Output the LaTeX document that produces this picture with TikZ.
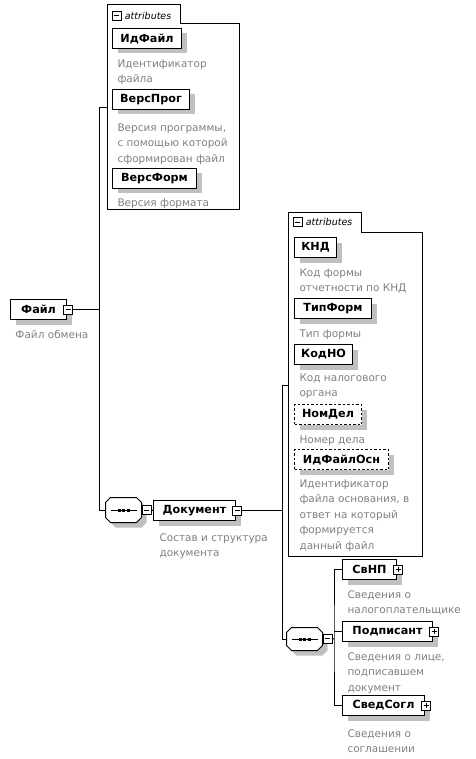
\documentclass[tikz,border=0pt]{standalone}
\usepackage{fontspec}
\setmainfont{DejaVu Sans}
\usepackage{tikz}
\usetikzlibrary{calc,shapes,shadows,positioning}

\definecolor{descgray}{RGB}{128,128,128}
\definecolor{shadowgray}{RGB}{192,192,192}

% octagon of a sequence compositor round node #1
\newcommand{\seqoct}[1]{%
  \draw[fill=white, drop shadow={shadow xshift=5pt, shadow yshift=-5pt, fill=shadowgray, opacity=1}]
    ([xshift=5pt]#1.north west) -- ([xshift=-5pt]#1.north east) -- ([yshift=-5pt]#1.north east)
    -- ([yshift=5pt]#1.south east) -- ([xshift=-5pt]#1.south east) -- ([xshift=5pt]#1.south west)
    -- ([yshift=5pt]#1.south west) -- ([yshift=-5pt]#1.north west) -- cycle;
  \draw ([xshift=5pt]#1.west) -- ([xshift=-5pt]#1.east);
  \fill ([xshift=-6pt, yshift=1.5pt]#1.center) rectangle +(3,3);
  \fill ([xshift=-1.5pt, yshift=1.5pt]#1.center) rectangle +(3,3);
  \fill ([xshift=3pt, yshift=1.5pt]#1.center) rectangle +(3,3);}

\begin{document}
\begin{tikzpicture}[x=1pt, y=-1pt, line width=1pt,
  elem/.style={draw, fill=white, anchor=north west, minimum height=20pt, inner sep=0pt,
    font=\fontsize{11.2}{12}\selectfont\bfseries,
    drop shadow={shadow xshift=5pt, shadow yshift=-5pt, fill=shadowgray, opacity=1}},
  optelem/.style={elem, dash pattern=on 2.5pt off 2pt},
  desc/.style={anchor=north west, inner sep=0pt, align=left, text=descgray,
    font=\fontsize{10.5}{15.5}\selectfont},
  attrlabel/.style={inner sep=0pt, font=\fontsize{9.5}{11}\selectfont\itshape},
  minusbox/.style={draw, fill=white, minimum size=9pt, inner sep=0pt, line width=0.8pt,
    path picture={\draw[line width=0.8pt] ([xshift=2pt]path picture bounding box.west) -- ([xshift=-2pt]path picture bounding box.east);}},
  plusbox/.style={draw, fill=white, minimum size=9pt, inner sep=0pt, line width=0.8pt,
    path picture={\draw[line width=0.8pt] ([xshift=2pt]path picture bounding box.west) -- ([xshift=-2pt]path picture bounding box.east);
      \draw[line width=0.8pt] ([yshift=-2pt]path picture bounding box.north) -- ([yshift=2pt]path picture bounding box.south);}},
  seqbox/.style={inner sep=0pt, minimum width=35pt, minimum height=24pt}]
  \useasboundingbox (0,0) rectangle (475,759);

  % root element
  \node[elem, minimum width=56pt] (file) at (10,299) {Файл};
  \node[minusbox] (file-m) at ([xshift=1pt]file.east) {};
  \node[desc] (file-d) at (15,330) {Файл обмена};

  % attributes of Файл
  \draw (107,210) -- (107,5) -- (180,5) -- (180,24) -- (239,24) -- (239,210) -- cycle;
  \node[minusbox] (attr1-m) at (116.5,15.5) {};
  \node[attrlabel, right=3pt of attr1-m] (attr1-l) {attributes};
  \coordinate (attr1-w) at (107,108);
  \coordinate (b1top) at (99,108);

  \node[elem, minimum width=69pt] (idfile) at (112,28) {ИдФайл};
  \node[desc] (idfile-d) at (117,59) {Идентификатор\\файла};
  \node[elem, minimum width=77pt] (versprog) at (112,89) {ВерсПрог};
  \node[desc] (versprog-d) at (117,123) {Версия программы,\\с помощью которой\\сформирован файл};
  \node[elem, minimum width=84pt] (versform) at (112,168) {ВерсФорм};
  \node[desc] (versform-d) at (117,198) {Версия формата};

  % sequence of Файл
  \node[seqbox] (seq1) at (123.5,510) {};
  \seqoct{seq1}
  \node[minusbox] (seq1-m) at (146.5,510) {};
  \node[elem, minimum width=82pt] (doc) at (153,500) {Документ};
  \node[minusbox] (doc-m) at ([xshift=1pt]doc.east) {};
  \node[desc] (doc-d) at (159,533) {Состав и структура\\документа};

  % attributes of Документ
  \draw (288,556) -- (288,213) -- (361,213) -- (361,232) -- (422,232) -- (422,556) -- cycle;
  \node[minusbox] (attr2-m) at (297.5,222) {};
  \node[attrlabel, right=3pt of attr2-m] (attr2-l) {attributes};
  \coordinate (attr2-w) at (288,385);
  \coordinate (b2top) at (282,385);

  \node[elem, minimum width=42pt] (knd) at (294,237) {КНД};
  \node[desc] (knd-d) at (299,268) {Код формы\\отчетности по КНД};
  \node[elem, minimum width=77pt] (tipform) at (294,298) {ТипФорм};
  \node[desc] (tipform-d) at (299,329) {Тип формы};
  \node[elem, minimum width=58pt] (kodno) at (294,344) {КодНО};
  \node[desc] (kodno-d) at (299,373) {Код налогового\\органа};
  \node[optelem, minimum width=67pt] (nomdel) at (294,404) {НомДел};
  \node[desc] (nomdel-d) at (299,435) {Номер дела};
  \node[optelem, minimum width=94pt] (idfileosn) at (294,449) {ИдФайлОсн};
  \node[desc] (idfileosn-d) at (299,479) {Идентификатор\\файла основания, в\\ответ на который\\формируется\\данный файл};

  % sequence of Документ
  \node[seqbox, minimum height=22pt] (seq2) at (304.5,639) {};
  \seqoct{seq2}
  \node[minusbox] (seq2-m) at (327.5,638.5) {};
  \coordinate (b3) at (334,639);

  \node[elem, minimum width=54pt] (svnp) at (342,559) {СвНП};
  \node[plusbox] (svnp-p) at ([xshift=1pt]svnp.east) {};
  \node[desc] (svnp-d) at (347,590) {Сведения о\\налогоплательщике};
  \node[elem, minimum width=90pt] (podp) at (342,621) {Подписант};
  \node[plusbox] (podp-p) at ([xshift=1pt]podp.east) {};
  \node[desc] (podp-d) at (347,652) {Сведения о лице,\\подписавшем\\документ};
  \node[elem, minimum width=82pt] (sved) at (342,695) {СведСогл};
  \node[plusbox] (sved-p) at ([xshift=1pt]sved.east) {};
  \node[desc] (sved-d) at (347,729) {Сведения о\\соглашении};

  % connectors
  \draw (file-m.east) -- (file-m.east -| b1top);
  \draw (attr1-w) -- (b1top) |- (seq1.west);
  \draw (seq1-m.east) -- (doc.west);
  \draw (doc-m.east) -- (doc-m.east -| b2top);
  \draw (attr2-w) -- (b2top) |- (seq2.west);
  \draw (seq2-m.east) -- (b3);
  \draw (svnp.west) -| (b3) |- (sved.west);
  \draw (podp.west) -- (podp.west -| b3);
\end{tikzpicture}
\end{document}
